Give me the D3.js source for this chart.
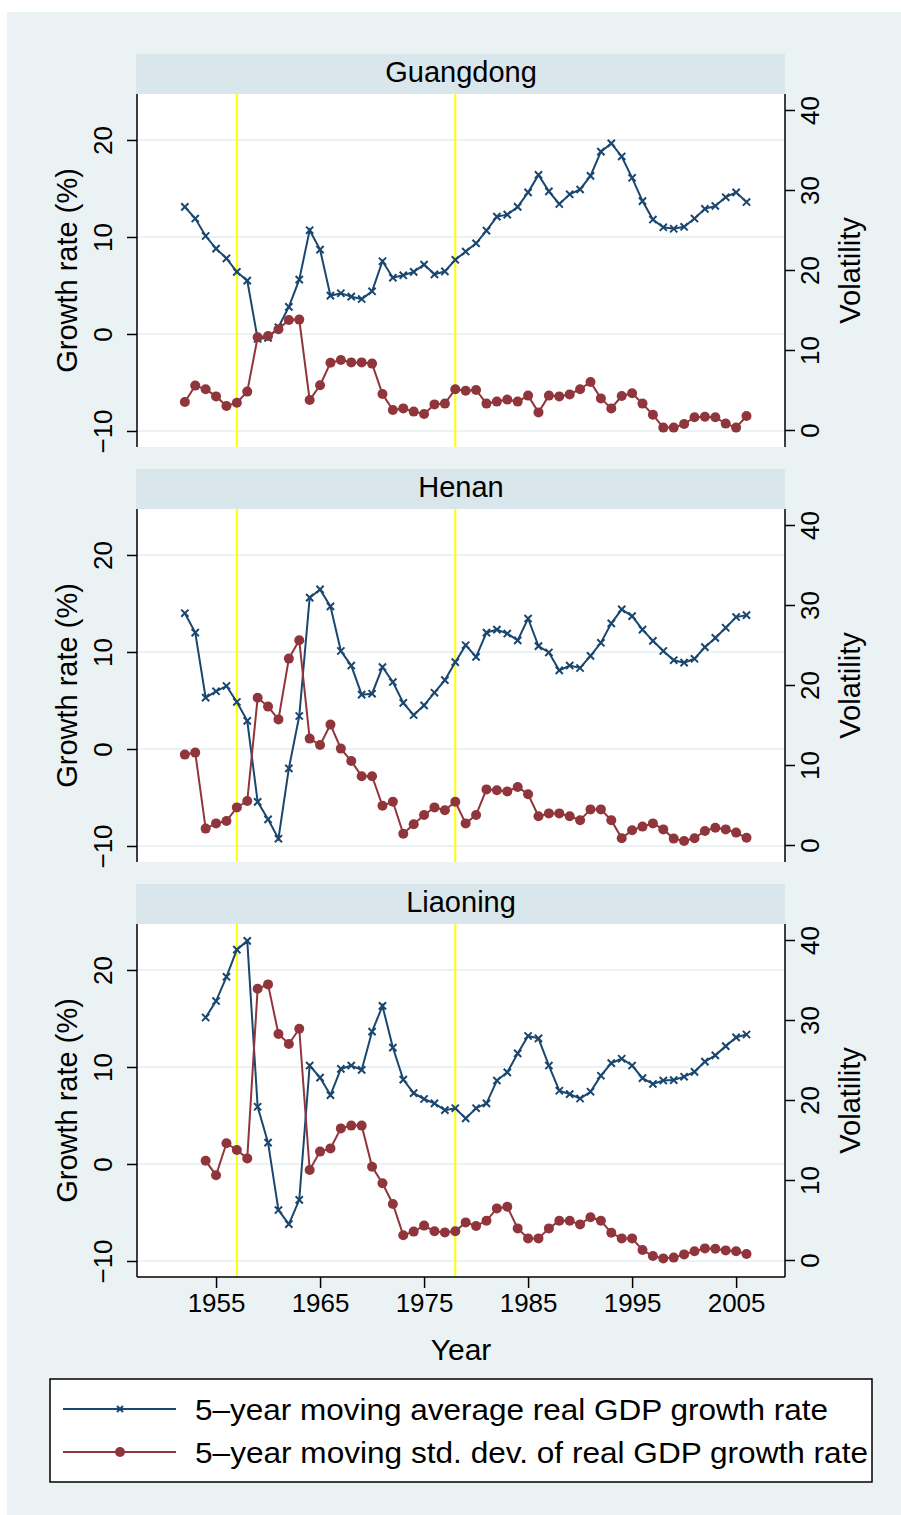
<!DOCTYPE html>
<html>
<head>
<meta charset="utf-8">
<script src="https://cdn.jsdelivr.net/npm/d3@7"></script>
<style>
  html, body { margin: 0; padding: 0; background: #ffffff; }
  svg { display: block; }
  text { font-family: "Liberation Sans", Arial, Helvetica, sans-serif; fill: #000; }
</style>
</head>
<body>
<svg id="chart" width="901" height="1515"></svg>
<script>
// ---- data -------------------------------------------------------------
const provinces = ["Guangdong", "Henan", "Liaoning"];
const startYears = [1952, 1952, 1954];
const endYear = 2006;

// 5-year moving average real GDP growth rate (%)
const growthGuangdong = [13.1, 11.9, 10.1, 8.8, 7.8, 6.4, 5.5, -0.5, -0.4, 0.7,
  2.8, 5.6, 10.7, 8.7, 3.95, 4.2, 3.85, 3.6, 4.4, 7.5,
  5.8, 6.05, 6.4, 7.15, 6.15, 6.45, 7.65, 8.5, 9.35, 10.65,
  12.1, 12.3, 13.1, 14.6, 16.4, 14.7, 13.4, 14.4, 14.9, 16.3,
  18.8, 19.65, 18.3, 16.1, 13.7, 11.8, 11.0, 10.85, 11.05, 11.9,
  12.9, 13.2, 14.1, 14.6, 13.6];
const growthHenan = [14.0, 12.0, 5.3, 5.95, 6.5, 4.85, 2.9, -5.45, -7.25, -9.25,
  -2.0, 3.4, 15.6, 16.45, 14.7, 10.1, 8.6, 5.6, 5.7, 8.45,
  6.9, 4.75, 3.5, 4.5, 5.8, 7.1, 8.95, 10.7, 9.5, 12.0,
  12.3, 11.9, 11.2, 13.45, 10.6, 9.95, 8.1, 8.6, 8.35, 9.6,
  10.95, 12.95, 14.4, 13.7, 12.3, 11.15, 10.1, 9.15, 8.9, 9.3,
  10.5, 11.45, 12.5, 13.6, 13.8];
const growthLiaoning = [15.1, 16.8, 19.3, 22.1, 23.0, 5.9, 2.2, -4.75, -6.2, -3.7,
  10.15, 8.9, 7.1, 9.8, 10.15, 9.7, 13.65, 16.3, 12.0, 8.7,
  7.3, 6.7, 6.25, 5.55, 5.75, 4.7, 5.75, 6.25, 8.6, 9.45,
  11.4, 13.2, 12.95, 10.15, 7.55, 7.2, 6.75, 7.45, 9.1, 10.4,
  10.85, 10.15, 8.85, 8.25, 8.6, 8.65, 9.0, 9.5, 10.55, 11.2,
  12.15, 13.05, 13.35];

// 5-year moving standard deviation of real GDP growth rate (volatility)
const volGuangdong = [3.5, 5.55, 5.1, 4.2, 3.0, 3.4, 4.8, 11.6, 11.75, 12.6,
  13.75, 13.8, 3.75, 5.6, 8.4, 8.75, 8.45, 8.45, 8.3, 4.5,
  2.5, 2.7, 2.3, 2.0, 3.2, 3.3, 5.1, 4.9, 5.0, 3.3,
  3.55, 3.8, 3.55, 4.3, 2.2, 4.3, 4.2, 4.45, 5.1, 6.0,
  3.95, 2.7, 4.25, 4.6, 3.3, 1.9, 0.3, 0.3, 0.75, 1.6,
  1.65, 1.6, 0.8, 0.3, 1.75];
const volHenan = [11.3, 11.55, 2.05, 2.7, 3.0, 4.7, 5.5, 18.4, 17.3, 15.7,
  23.3, 25.6, 13.3, 12.5, 15.05, 12.05, 10.5, 8.6, 8.6, 4.9,
  5.4, 1.4, 2.6, 3.75, 4.7, 4.35, 5.4, 2.7, 3.75, 6.95,
  6.85, 6.7, 7.25, 6.35, 3.6, 3.95, 3.95, 3.6, 3.1, 4.45,
  4.45, 3.1, 0.85, 1.85, 2.3, 2.7, 1.95, 0.8, 0.5, 0.85,
  1.75, 2.15, 1.95, 1.55, 0.9];
const volLiaoning = [12.4, 10.6, 14.6, 13.75, 12.7, 33.9, 34.45, 28.25, 27.0, 28.9,
  11.25, 13.55, 13.95, 16.45, 16.8, 16.8, 11.65, 9.6, 7.0, 3.1,
  3.55, 4.3, 3.6, 3.45, 3.6, 4.7, 4.25, 4.9, 6.45, 6.65,
  3.95, 2.7, 2.7, 3.95, 4.9, 4.9, 4.45, 5.35, 4.9, 3.4,
  2.7, 2.7, 1.25, 0.5, 0.2, 0.3, 0.7, 1.1, 1.45, 1.4,
  1.2, 1.1, 0.75];

const growthSeries = [growthGuangdong, growthHenan, growthLiaoning];
const volSeries = [volGuangdong, volHenan, volLiaoning];

// reference years marked with vertical lines
const markerYears = [1957, 1978];

const xTicks = [1955, 1965, 1975, 1985, 1995, 2005];
const leftTicks = [-10, 0, 10, 20];
const rightTicks = [0, 10, 20, 30, 40];

const legendLabels = [
  "5\u2013year moving average real GDP growth rate",
  "5\u2013year moving std. dev. of real GDP growth rate"
];

// ---- styling ------------------------------------------------------------
const C = {
  bg: "#eaf2f3",
  strip: "#d9e6eb",
  grid: "#eaf2f3",
  blue: "#1a476f",
  red: "#90353b",
  yellow: "#ffff00"
};

const svg = d3.select("#chart");

// outer graph region
svg.append("rect").attr("x", 7).attr("y", 12).attr("width", 894).attr("height", 1503)
  .attr("fill", C.bg);

const plotLeft = 137, plotRight = 785;
const panelTop0 = 94, panelH = 353, panelStep = 415;
const stripH = 40;

const x = d3.scaleLinear().domain([1947.4, 2009.7]).range([plotLeft, plotRight]);

const tickFont = 26, titleFont = 29;

provinces.forEach((name, i) => {
  const top = panelTop0 + i * panelStep;
  const bottom = top + panelH;
  const yL = d3.scaleLinear().domain([-11.65, 24.74]).range([bottom, top]);
  const yR = d3.scaleLinear().domain([-2.125, 42]).range([bottom, top]);

  const g = svg.append("g");

  // strip header
  g.append("rect").attr("x", plotLeft - 1).attr("y", top - stripH)
    .attr("width", plotRight - plotLeft + 1).attr("height", stripH).attr("fill", C.strip);
  g.append("text").attr("x", (plotLeft + plotRight) / 2).attr("y", top - stripH / 2 - 2)
    .attr("dy", "0.36em").attr("text-anchor", "middle")
    .style("font-size", "29px").text(name);

  // plot region
  g.append("rect").attr("x", plotLeft).attr("y", top)
    .attr("width", plotRight - plotLeft).attr("height", panelH).attr("fill", "#ffffff");

  // horizontal grid at left-axis ticks
  g.selectAll(".grid").data(leftTicks).enter().append("line")
    .attr("x1", plotLeft).attr("x2", plotRight)
    .attr("y1", d => yL(d)).attr("y2", d => yL(d))
    .attr("stroke", C.grid).attr("stroke-width", 2);

  // vertical reference lines
  g.selectAll(".ref").data(markerYears).enter().append("line")
    .attr("x1", d => x(d)).attr("x2", d => x(d))
    .attr("y1", top).attr("y2", bottom)
    .attr("stroke", C.yellow).attr("stroke-width", 2);

  // left axis
  const axL = d3.axisLeft(yL).tickValues(leftTicks).tickSize(10).tickPadding(0)
    .tickFormat(d => d < 0 ? "\u2212" + Math.abs(d) : d);
  const gL = g.append("g").attr("transform", `translate(${plotLeft},0)`).call(axL);
  gL.select(".domain").attr("d", `M0,${top}V${bottom}`).attr("stroke", "#000").attr("stroke-width", 1.5);
  gL.selectAll(".tick line").attr("stroke", "#000").attr("stroke-width", 1.5);
  gL.selectAll(".tick text")
    .attr("x", null).attr("dy", null)
    .attr("transform", "translate(-34,0) rotate(-90)")
    .attr("text-anchor", "middle").attr("dy", "0.36em")
    .style("font-size", tickFont + "px").style("font-family", "Liberation Sans, Arial, sans-serif");

  // right axis
  const axR = d3.axisRight(yR).tickValues(rightTicks).tickSize(10).tickPadding(0);
  const gR = g.append("g").attr("transform", `translate(${plotRight},0)`).call(axR);
  gR.select(".domain").attr("d", `M0,${top}V${bottom}`).attr("stroke", "#000").attr("stroke-width", 1.5);
  gR.selectAll(".tick line").attr("stroke", "#000").attr("stroke-width", 1.5);
  gR.selectAll(".tick text")
    .attr("x", null).attr("dy", null)
    .attr("transform", "translate(25,0) rotate(-90)")
    .attr("text-anchor", "middle").attr("dy", "0.36em")
    .style("font-size", tickFont + "px").style("font-family", "Liberation Sans, Arial, sans-serif");

  // axis titles
  const midY = (top + bottom) / 2;
  g.append("text").attr("transform", `translate(67,${midY}) rotate(-90)`)
    .attr("text-anchor", "middle").attr("dy", "0.36em")
    .style("font-size", titleFont + "px").text("Growth rate (%)");
  g.append("text").attr("transform", `translate(850,${midY}) rotate(-90)`)
    .attr("text-anchor", "middle").attr("dy", "0.36em")
    .style("font-size", titleFont + "px").text("Volatility");

  // series
  const y0 = startYears[i];
  const growth = growthSeries[i].map((v, k) => ({ year: y0 + k, v }));
  const vol = volSeries[i].map((v, k) => ({ year: y0 + k, v }));

  g.append("path").datum(growth)
    .attr("d", d3.line().x(d => x(d.year)).y(d => yL(d.v)))
    .attr("fill", "none").attr("stroke", C.blue).attr("stroke-width", 2);
  const xs = 3.6;
  g.selectAll(".xm").data(growth).enter().append("path")
    .attr("d", d => {
      const cx = x(d.year), cy = yL(d.v);
      return `M${cx - xs},${cy - xs}L${cx + xs},${cy + xs}M${cx - xs},${cy + xs}L${cx + xs},${cy - xs}`;
    })
    .attr("stroke", C.blue).attr("stroke-width", 2).attr("fill", "none");

  g.append("path").datum(vol)
    .attr("d", d3.line().x(d => x(d.year)).y(d => yR(d.v)))
    .attr("fill", "none").attr("stroke", C.red).attr("stroke-width", 2);
  g.selectAll(".cm").data(vol).enter().append("circle")
    .attr("cx", d => x(d.year)).attr("cy", d => yR(d.v)).attr("r", 5)
    .attr("fill", C.red);

  // bottom axis only on the last panel
  if (i === provinces.length - 1) {
    const axB = d3.axisBottom(x).tickValues(xTicks).tickSize(11).tickPadding(6)
      .tickFormat(d3.format("d"));
    const gB = g.append("g").attr("transform", `translate(0,${bottom})`).call(axB);
    gB.select(".domain").attr("d", `M${plotLeft},0H${plotRight}`).attr("stroke", "#000").attr("stroke-width", 1.5);
    gB.selectAll(".tick line").attr("stroke", "#000").attr("stroke-width", 1.5);
    gB.selectAll(".tick text").attr("dy", "0.71em")
      .style("font-size", tickFont + "px").style("font-family", "Liberation Sans, Arial, sans-serif");
    g.append("text").attr("x", (plotLeft + plotRight) / 2).attr("y", 1360)
      .attr("text-anchor", "middle").style("font-size", "30px").text("Year");
  }
});

// ---- legend -------------------------------------------------------------
const lg = svg.append("g");
lg.append("rect").attr("x", 50).attr("y", 1379).attr("width", 822).attr("height", 103)
  .attr("fill", "#ffffff").attr("stroke", "#000").attr("stroke-width", 1.5);
const legendRows = [1409, 1452];
const legendWidths = [633, 673];
legendLabels.forEach((lab, k) => {
  const yy = legendRows[k];
  const col = k === 0 ? C.blue : C.red;
  lg.append("line").attr("x1", 63).attr("x2", 176).attr("y1", yy).attr("y2", yy)
    .attr("stroke", col).attr("stroke-width", 2);
  if (k === 0) {
    const s = 3;
    lg.append("path").attr("d", `M${120 - s},${yy - s}L${120 + s},${yy + s}M${120 - s},${yy + s}L${120 + s},${yy - s}`)
      .attr("stroke", col).attr("stroke-width", 2);
  } else {
    lg.append("circle").attr("cx", 120).attr("cy", yy).attr("r", 5).attr("fill", col);
  }
  lg.append("text").attr("x", 195).attr("y", yy).attr("dy", "0.36em")
    .attr("textLength", legendWidths[k]).attr("lengthAdjust", "spacingAndGlyphs")
    .style("font-size", "30px").text(lab);
});
</script>
</body>
</html>
